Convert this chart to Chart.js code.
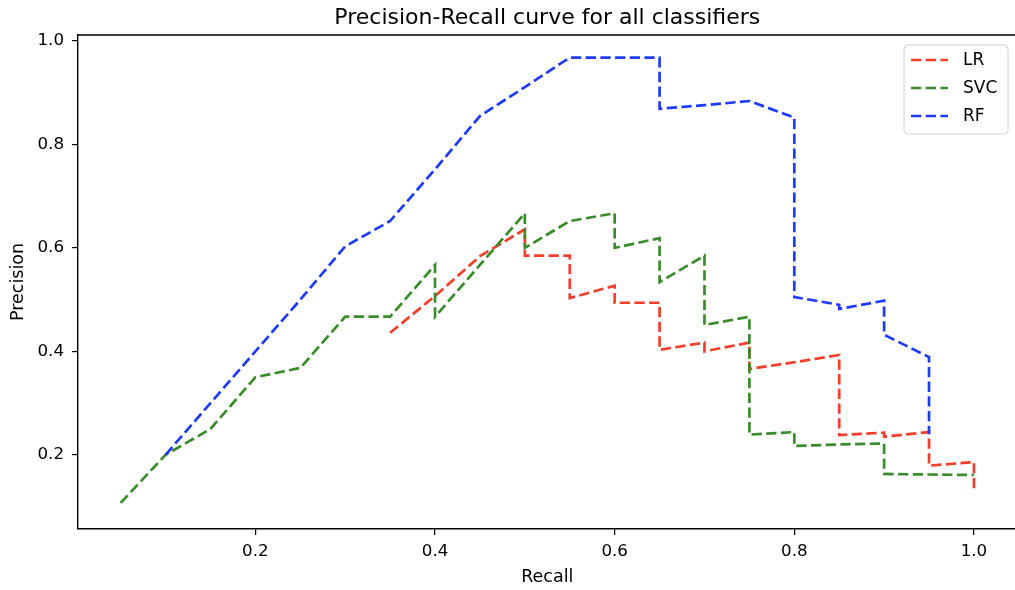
<!DOCTYPE html>
<html>
<head>
<meta charset="utf-8">
<script src="https://cdn.jsdelivr.net/npm/chart.js@4"></script>
<style>
  html, body { margin: 0; padding: 0; background: #fff; overflow: hidden; width: 1015px; height: 590px; }
  #wrap { width: 1040px; height: 590px; }
</style>
</head>
<body>
<div id="wrap"><canvas id="c" width="1040" height="590"></canvas></div>
<script>
const chartTitle = "Precision-Recall curve for all classifiers";
const xLabel = "Recall";
const yLabel = "Precision";
const seriesNames = ["LR", "SVC", "RF"];
const seriesColors = ["#f43d2a", "#3a8b2b", "#1e3cf8"];

const xTicks = [0.2, 0.4, 0.6, 0.8, 1.0];
const yTicks = [0.2, 0.4, 0.6, 0.8, 1.0];

const lrRecall = [0.35, 0.40, 0.45, 0.50, 0.50, 0.55, 0.55, 0.60, 0.60, 0.65, 0.65, 0.70, 0.70, 0.75, 0.75, 0.80, 0.85, 0.85, 0.90, 0.90, 0.95, 0.95, 1.00, 1.00];
const lrPrecision = [0.436, 0.507, 0.584, 0.636, 0.585, 0.585, 0.503, 0.527, 0.494, 0.494, 0.403, 0.417, 0.400, 0.417, 0.366, 0.379, 0.393, 0.238, 0.243, 0.235, 0.244, 0.179, 0.186, 0.132];

const svcRecall = [0.05, 0.10, 0.15, 0.20, 0.25, 0.30, 0.35, 0.40, 0.40, 0.45, 0.50, 0.50, 0.55, 0.60, 0.60, 0.65, 0.65, 0.70, 0.70, 0.75, 0.75, 0.80, 0.80, 0.85, 0.90, 0.90, 0.95, 1.00];
const svcPrecision = [0.107, 0.200, 0.250, 0.350, 0.368, 0.467, 0.467, 0.567, 0.467, 0.567, 0.667, 0.600, 0.652, 0.667, 0.600, 0.619, 0.534, 0.585, 0.451, 0.467, 0.239, 0.244, 0.217, 0.220, 0.222, 0.163, 0.162, 0.161];

const rfRecall = [0.10, 0.15, 0.20, 0.25, 0.30, 0.35, 0.40, 0.45, 0.50, 0.55, 0.60, 0.65, 0.65, 0.70, 0.75, 0.80, 0.80, 0.85, 0.85, 0.90, 0.90, 0.95, 0.95];
const rfPrecision = [0.200, 0.300, 0.400, 0.500, 0.603, 0.652, 0.752, 0.855, 0.911, 0.968, 0.968, 0.968, 0.869, 0.876, 0.884, 0.852, 0.505, 0.490, 0.482, 0.498, 0.432, 0.389, 0.240];

const FONT = "'DejaVu Sans', sans-serif";
const LW = 2.7;
const DASH = [10.3, 4.4];

function pts(xs, ys) { return xs.map((x, i) => ({ x: x, y: ys[i] })); }

const allSeries = [
  { r: lrRecall, p: lrPrecision },
  { r: svcRecall, p: svcPrecision },
  { r: rfRecall, p: rfPrecision }
];

const datasets = allSeries.map((s, i) => ({
  label: seriesNames[i],
  data: pts(s.r, s.p),
  borderColor: seriesColors[i],
  backgroundColor: seriesColors[i],
  borderWidth: LW,
  borderDash: DASH,
  pointRadius: 0,
  pointHoverRadius: 0,
  fill: false,
  tension: 0,
  order: 2 - i
}));

const decor = {
  id: 'decor',
  afterDraw(chart) {
    const ctx = chart.ctx;
    const a = chart.chartArea;
    ctx.save();
    ctx.strokeStyle = '#000';
    ctx.lineWidth = 1.4;
    ctx.beginPath();
    ctx.moveTo(a.left, a.top);
    ctx.lineTo(a.right, a.top);
    ctx.lineTo(a.right, a.bottom);
    ctx.stroke();
    ctx.fillStyle = '#000';
    ctx.font = "22px " + FONT;
    ctx.textAlign = 'center';
    ctx.textBaseline = 'alphabetic';
    ctx.fillText(chartTitle, (a.left + a.right) / 2, 24);
    const bx = 904, by = 45, bw = 104, bh = 89, r = 4;
    ctx.beginPath();
    ctx.moveTo(bx + r, by);
    ctx.lineTo(bx + bw - r, by);
    ctx.arcTo(bx + bw, by, bx + bw, by + r, r);
    ctx.lineTo(bx + bw, by + bh - r);
    ctx.arcTo(bx + bw, by + bh, bx + bw - r, by + bh, r);
    ctx.lineTo(bx + r, by + bh);
    ctx.arcTo(bx, by + bh, bx, by + bh - r, r);
    ctx.lineTo(bx, by + r);
    ctx.arcTo(bx, by, bx + r, by, r);
    ctx.closePath();
    ctx.fillStyle = 'rgba(255,255,255,0.8)';
    ctx.fill();
    ctx.strokeStyle = '#d0d0d0';
    ctx.lineWidth = 1;
    ctx.stroke();
    const rows = [60, 88, 116];
    chart.data.datasets.forEach((d, i) => {
      ctx.strokeStyle = d.borderColor;
      ctx.lineWidth = LW;
      ctx.setLineDash(DASH);
      ctx.beginPath();
      ctx.moveTo(911, rows[i]);
      ctx.lineTo(948, rows[i]);
      ctx.stroke();
      ctx.setLineDash([]);
      ctx.fillStyle = '#000';
      ctx.font = "17px " + FONT;
      ctx.textAlign = 'left';
      ctx.textBaseline = 'middle';
      ctx.fillText(d.label, 963, rows[i] + 1);
    });
    ctx.restore();
  }
};

new Chart(document.getElementById('c'), {
  type: 'line',
  data: { datasets: datasets },
  plugins: [decor],
  options: {
    responsive: false,
    animation: false,
    events: [],
    layout: { padding: { left: 8, right: 23.4, top: 35, bottom: 0 } },
    plugins: { legend: { display: false }, tooltip: { enabled: false }, title: { display: false } },
    scales: {
      x: {
        type: 'linear',
        min: 0.0025,
        max: 1.0475,
        afterBuildTicks: (s) => { s.ticks = xTicks.map(v => ({ value: v })); },
        afterFit: (s) => { s.height = 61; },
        ticks: { color: '#000', font: { family: FONT, size: 16.7 }, padding: 7, maxRotation: 0, autoSkip: false,
                 callback: (v) => Number(v).toFixed(1) },
        grid: { drawOnChartArea: false, drawTicks: true, tickLength: 6, color: '#000', lineWidth: 1.2 },
        border: { display: true, color: '#000', width: 1.4 },
        title: { display: true, text: xLabel, color: '#000', font: { family: FONT, size: 17.5 }, padding: { top: 0, bottom: 2 } }
      },
      y: {
        type: 'linear',
        min: 0.0566,
        max: 1.0116,
        afterBuildTicks: (s) => { s.ticks = yTicks.map(v => ({ value: v })); },
        afterFit: (s) => { s.width = 70; },
        ticks: { color: '#000', font: { family: FONT, size: 16.7 }, padding: 8, autoSkip: false,
                 callback: (v) => Number(v).toFixed(1) },
        grid: { drawOnChartArea: false, drawTicks: true, tickLength: 6, color: '#000', lineWidth: 1.2 },
        border: { display: true, color: '#000', width: 1.4 },
        title: { display: true, text: yLabel, color: '#000', font: { family: FONT, size: 17.5 }, padding: { top: 0, bottom: 0 } }
      }
    }
  }
});
</script>
</body>
</html>
